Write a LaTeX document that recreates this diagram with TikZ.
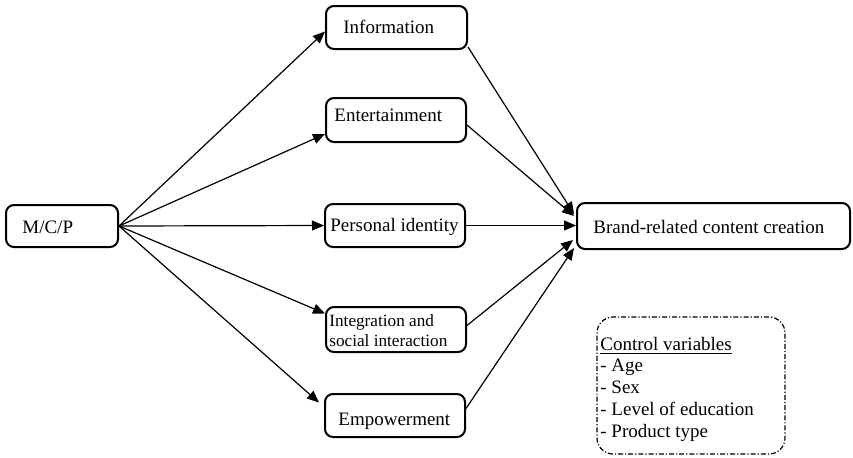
\documentclass[tikz,border=0pt]{standalone}
\usepackage{fontspec}
\setmainfont{Liberation Serif}
\usetikzlibrary{calc,arrows.meta}
\tikzset{
  box/.style={draw, line width=1pt, rounded corners=4pt, inner sep=0pt},
  ctrlbox/.style={draw, line width=0.6pt, rounded corners=8pt, inner sep=0pt,
    dash pattern=on 2.5pt off 1pt on 0.6pt off 1pt},
  txt/.style={inner sep=0pt, anchor=base west, font=\fontsize{9.5}{10.85}\selectfont},
  link/.style={line width=0.6pt, -{Triangle[length=6pt,width=5pt]}},
}

\begin{document}
\begin{tikzpicture}[x=0.5pt, y=-0.5pt]
			%%%%% START %%%%%
			\useasboundingbox (0, 0) rectangle (853, 457);
			
			% boxes
			\node[box, minimum width=56pt, minimum height=21pt] (mcp) at (62, 226) {};
			\node[box, minimum width=70.5pt, minimum height=21.5pt] (info) at (396.5, 27.5) {};
			\node[box, minimum width=70pt, minimum height=22pt] (ent) at (396, 120) {};
			\node[box, minimum width=70pt, minimum height=21.5pt] (pid) at (395, 225.5) {};
			\node[box, minimum width=70pt, minimum height=22.5pt] (integ) at (396, 329.5) {};
			\node[box, minimum width=70pt, minimum height=21.5pt] (emp) at (395, 415.5) {};
			\node[box, minimum width=136.5pt, minimum height=23pt] (brc) at (713.5, 226) {};
			\node[ctrlbox, minimum width=94pt, minimum height=68.5pt] (ctrl) at (691, 385.5) {};
			
			% texts (multi-line ones sit on their last baseline)
			\node[txt] (mcp-t) at (22, 233) {M/C/P};
			\node[txt] (info-t) at (343, 33) {Information};
			\node[txt] (ent-t) at (334, 121) {Entertainment};
			\node[txt] (pid-t) at (330, 231) {Personal identity};
			\node[txt, align=left, font=\fontsize{8.6}{10}\selectfont] (integ-t) at (329, 346) {Integration and\\social interaction};
			\node[txt, align=left] (ctrl-t) at (600, 437) {\underline{Control variables}\\- Age\\- Sex\\- Level of education\\- Product type};
			\node[txt] (emp-t) at (338, 425) {Empowerment};
			\node[txt] (brc-t) at (593, 233) {Brand-related content creation};
			
			% from M/C/P
			\draw[link] (mcp.east) -- ($(info.west)+(0, 4)$);
			\draw[link] (mcp.east) -- ($(ent.west)+(0, 14)$);
			\draw[link] (mcp.east) -- (pid.west);
			\draw[link] (mcp.east) -- ($(integ.west)+(0, -16)$);
			\draw[link] (mcp.east) -- ($(emp.west)+(-5, -13)$);
			
			% to brand-related content creation
			\draw[link] ($(info.south east)+(0, -3)$) -- ($(brc.west)+(-2, -12)$);
			\draw[link] ($(ent.east)+(0, 5)$) -- ($(brc.west)+(-2, -10)$);
			\draw[link] (pid.east) -- (pid.east -| brc.west);
			\draw[link] ($(integ.east)+(0, -4)$) -- ($(brc.west)+(-3, 14)$);
			\draw[link] ($(emp.east)+(0, -7)$) -- ($(brc.west)+(-2, 22)$);
			
			%%%%% END %%%%%
\end{tikzpicture}
\end{document}
